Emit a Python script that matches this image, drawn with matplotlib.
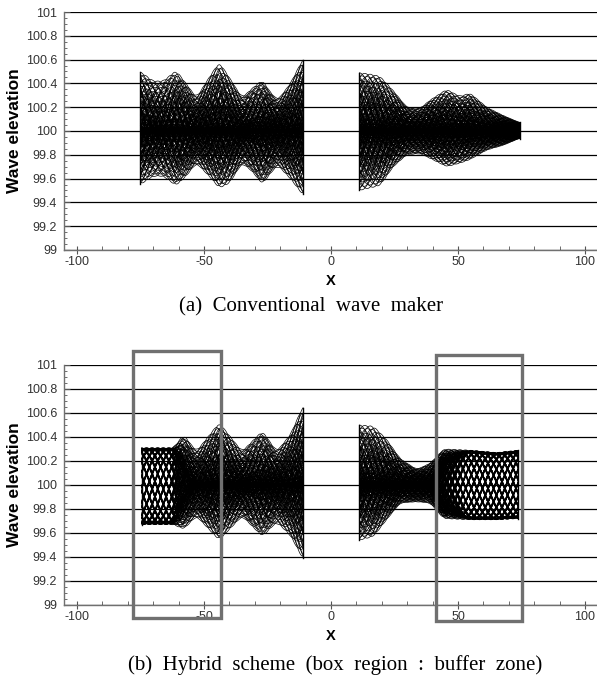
# Wave elevation snapshots: conventional wave maker vs hybrid scheme
import matplotlib
matplotlib.use("Agg")
import matplotlib.pyplot as plt
from matplotlib.patches import Rectangle
from matplotlib.ticker import MultipleLocator
import numpy as np

plt.rcParams["axes.unicode_minus"] = False

# ---- values ----
WAVELENGTH = 33.0          # wave length of the snapshots (x units)
MEAN_LEVEL = 100.0

# snapshot phases (deg) and amplitude fractions of the overlaid curves
PHASES_DEG = [0, 24, 48, 72, 96, 120, 144, 168, 192, 216, 240, 264, 288, 312, 336]
SCALES = [1.0, 0.95, 0.87, 0.78, 0.69, 0.6, 0.5, 0.4, 0.3, 0.2, 0.12, 0.06, 0.03, 0.015]
SCALE_SHIFT_DEG = [0, 12, 5, 17, 8, 20, 3, 14, 6, 10, 16, 4, 21, 9]
# small changes of wave length between snapshot families (outside buffer zones)
K_FACTOR = [1.0, 1.06, 0.94, 1.1, 0.9, 1.03, 0.97, 1.08, 0.92, 1.0, 1.05, 0.95, 1.02, 0.98]
# inside a buffer zone the families nearly coincide with the target wave
BUFFER_JITTER_DEG = [0, 1.0, -1.0, 2.0, -2.0, 0.5, -0.5, 1.5, -1.5, 2.5, -2.5, 0.3, -0.3, 1.2]
BUFFER_AMP = [1.0, 0.99, 0.98, 0.97, 0.96, 0.985, 0.975, 0.965, 0.995, 0.955, 0.95, 0.99, 0.97, 0.98]

# (a) conventional wave maker, left group: x, upper / lower envelope, spread
a_left_x = [-75, -70, -66, -61, -57, -53, -48, -44, -40, -35, -31, -27, -24, -21, -16, -11]
a_left_up = [0.50, 0.42, 0.42, 0.51, 0.40, 0.28, 0.45, 0.58, 0.45, 0.28, 0.36, 0.43, 0.33, 0.26, 0.40, 0.61]
a_left_lo = [0.45, 0.38, 0.38, 0.46, 0.38, 0.27, 0.38, 0.48, 0.44, 0.27, 0.34, 0.45, 0.36, 0.29, 0.40, 0.54]
a_left_sp = [1.0] * 16

# (a) right group
a_right_x = [11.2, 15, 19.3, 24.5, 29.8, 35, 39, 45.5, 50.8, 54.7, 61.3, 67.8, 74.4]
a_right_up = [0.49, 0.48, 0.46, 0.34, 0.20, 0.19, 0.26, 0.35, 0.29, 0.32, 0.20, 0.13, 0.07]
a_right_lo = [0.50, 0.48, 0.46, 0.30, 0.20, 0.19, 0.23, 0.30, 0.27, 0.24, 0.16, 0.12, 0.06]
a_right_sp = [1.0] * 13

# (b) hybrid scheme, left group (buffer zone on the left end)
b_left_x = [-74.5, -68, -62, -58, -53, -44, -35, -27, -21.4, -16, -11]
b_left_up = [0.31, 0.31, 0.31, 0.42, 0.28, 0.52, 0.28, 0.45, 0.28, 0.42, 0.66]
b_left_lo = [0.33, 0.33, 0.33, 0.37, 0.26, 0.46, 0.26, 0.43, 0.31, 0.42, 0.62]
b_left_sp = [0.0, 0.0, 0.0, 0.7, 1.0, 1.0, 1.0, 1.0, 1.0, 1.0, 1.0]

# (b) right group (buffer zone on the right end)
b_right_x = [11.2, 16.7, 21.9, 27.2, 33.7, 39, 44.3, 54.7, 65.2, 73.8]
b_right_up = [0.50, 0.49, 0.38, 0.22, 0.13, 0.18, 0.30, 0.29, 0.27, 0.29]
b_right_lo = [0.46, 0.43, 0.29, 0.15, 0.14, 0.15, 0.28, 0.29, 0.29, 0.28]
b_right_sp = [1.0, 1.0, 1.0, 1.0, 1.0, 1.0, 0.3, 0.0, 0.0, 0.0]

# buffer zone boxes of panel (b): (x0, x1, y0, y1)
box_left = (-78.0, -43.3, 98.89, 101.12)
box_right = (41.3, 75.2, 98.87, 101.08)

CAPTION_A = "(a)  Conventional  wave  maker"
CAPTION_B = "(b)  Hybrid  scheme  (box  region  :  buffer  zone)"


def smooth_profile(xs, knots_x, knots_v, win=31):
    """Linear interpolation of the knots, softened with a moving average."""
    v = np.interp(xs, knots_x, knots_v)
    pad = win // 2
    vp = np.pad(v, pad, mode="edge")
    return np.convolve(vp, np.ones(win) / win, mode="valid")


def draw_group(ax, gx, up, lo, spread):
    xs = np.linspace(gx[0], gx[-1], 700)
    u = smooth_profile(xs, gx, up)
    l = smooth_profile(xs, gx, lo)
    sp = smooth_profile(xs, gx, spread)
    k0 = 2 * np.pi / WAVELENGTH
    x_ref = xs[0] if gx[0] > 0 else xs[-1]
    families = zip(SCALES, SCALE_SHIFT_DEG, K_FACTOR, BUFFER_JITTER_DEG, BUFFER_AMP)
    for s, shift, kf, jit, bamp in families:
        amp = sp * s + (1.0 - sp) * bamp
        k = k0 * (1.0 + sp * (kf - 1.0))
        for ph in PHASES_DEG:
            phase = ph + sp * shift + (1.0 - sp) * jit
            c = np.cos(k * (xs - x_ref) - np.radians(phase))
            env = np.where(c > 0, u, l)
            ax.plot(xs, MEAN_LEVEL + amp * env * c, color="black", lw=0.5, zorder=3)
    # end walls where the snapshots join
    for i in (0, -1):
        ax.plot([xs[i], xs[i]], [MEAN_LEVEL - l[i], MEAN_LEVEL + u[i]],
                color="black", lw=1.0, zorder=3)


def style_axes(ax):
    ax.set_xlim(-105.1, 104.7)
    ax.set_ylim(99, 101)
    ax.xaxis.set_major_locator(MultipleLocator(50))
    ax.xaxis.set_minor_locator(MultipleLocator(10))
    ax.yaxis.set_major_locator(MultipleLocator(0.2))
    ax.yaxis.set_minor_locator(MultipleLocator(0.05))
    ax.yaxis.set_major_formatter(plt.FuncFormatter(lambda v, p: f"{v:g}"))
    ax.grid(axis="y", which="major", color="black", lw=0.9, zorder=1)
    ax.set_axisbelow(True)
    for side in ("top", "right"):
        ax.spines[side].set_visible(False)
    for side in ("left", "bottom"):
        ax.spines[side].set_color("#707070")
        ax.spines[side].set_linewidth(1.0)
        ax.spines[side].set_zorder(4)
    ax.tick_params(axis="x", which="major", direction="inout", length=6, pad=1,
                   color="#555555", labelsize=9, labelcolor="#333333")
    ax.tick_params(axis="x", which="minor", direction="in", length=3, color="#555555")
    ax.tick_params(axis="y", which="major", direction="in", length=4, pad=5,
                   color="#555555", labelsize=9, labelcolor="#333333")
    ax.tick_params(axis="y", which="minor", direction="in", length=2.5, color="#555555")
    for lab in ax.get_xticklabels() + ax.get_yticklabels():
        lab.set_family("Liberation Sans")
    ax.set_ylabel("Wave elevation", fontsize=12.5, fontweight="bold",
                  family="Liberation Sans", labelpad=3)
    ax.set_xlabel("X", fontsize=10.5, fontweight="bold", family="Liberation Sans", labelpad=5)


fig = plt.figure(figsize=(5.97, 6.86), dpi=100)
ax_a = fig.add_axes([0.1072, 0.6356, 0.8928, 0.3469])
ax_b = fig.add_axes([0.1072, 0.1181, 0.8928, 0.3499])

draw_group(ax_a, a_left_x, a_left_up, a_left_lo, a_left_sp)
draw_group(ax_a, a_right_x, a_right_up, a_right_lo, a_right_sp)
draw_group(ax_b, b_left_x, b_left_up, b_left_lo, b_left_sp)
draw_group(ax_b, b_right_x, b_right_up, b_right_lo, b_right_sp)

style_axes(ax_a)
style_axes(ax_b)

for x0, x1, y0, y1 in (box_left, box_right):
    ax_b.add_patch(Rectangle((x0, y0), x1 - x0, y1 - y0, fill=False,
                             edgecolor="#707070", lw=2.4, clip_on=False, zorder=6))

fig.text(311 / 597, 1 - 307 / 686, CAPTION_A, ha="center", va="center",
         fontsize=15, family="Liberation Serif")
fig.text(335 / 597, 1 - 665 / 686, CAPTION_B, ha="center", va="center",
         fontsize=15, family="Liberation Serif")

fig.savefig("out.png", dpi=100)
